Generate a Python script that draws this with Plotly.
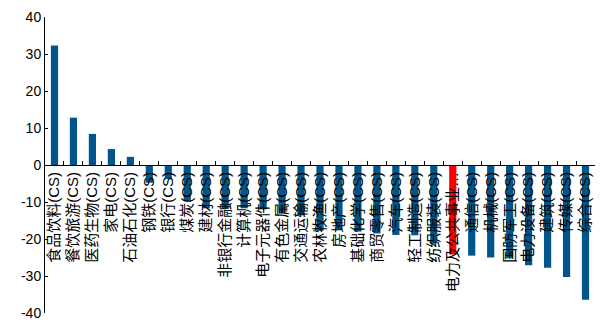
import plotly.graph_objects as go

categories = [
    "食品饮料(CS)", "餐饮旅游(CS)", "医药生物(CS)", "家电(CS)", "石油石化(CS)",
    "钢铁(CS)", "银行(CS)", "煤炭(CS)", "建材(CS)", "非银行金融(CS)",
    "计算机(CS)", "电子元器件(CS)", "有色金属(CS)", "交通运输(CS)", "农林牧渔(CS)",
    "房地产(CS)", "基础化学(CS)", "商贸零售(CS)", "汽车(CS)", "轻工制造(CS)",
    "纺织服装(CS)", "电力及公共事业…", "通信(CS)", "机械(CS)", "国防军工(CS)",
    "电力设备(CS)", "建筑(CS)", "传媒(CS)", "综合(CS)",
]
values = [
    32.3, 12.8, 8.4, 4.3, 2.2,
    -4.8, -3.8, -9.7, -11.7, -11.9,
    -11.7, -12.0, -13.1, -13.6, -17.8,
    -17.4, -18.0, -18.5, -18.9, -19.0,
    -21.2, -24.2, -24.5, -25.0, -25.2,
    -27.1, -27.8, -30.3, -36.4,
]
highlight = "电力及公共事业…"
y_tickvals = [40, 30, 20, 10, 0, -10, -20, -30, -40]
y_ticktext = ["40", "30", "20", "10", "0", "-10", "-20", "-30", "-40"]

BLUE = "#00568A"
RED = "#FF0000"
colors = [RED if c == highlight else BLUE for c in categories]

fig = go.Figure(go.Bar(x=categories, y=values, marker=dict(color=colors, line=dict(width=0))))

fig.update_layout(
    width=602, height=327,
    margin=dict(l=45, r=7, t=17, b=14),
    paper_bgcolor="white", plot_bgcolor="white",
    bargap=0.62,
    showlegend=False,
    font=dict(family="Liberation Sans, Arial, Noto Sans CJK SC", color="#000000"),
    xaxis=dict(
        type="category",
        anchor="free", position=0.5,
        tickmode="linear", dtick=1,
        showline=True, linecolor="#000000", linewidth=1,
        ticks="inside", ticklen=4, tickcolor="#000000", tickson="boundaries",
        tickangle=-90,
        tickfont=dict(size=15, family="Liberation Sans, Noto Sans CJK SC", color="#000000"),
        showgrid=False, zeroline=False,
        range=[-0.5, len(categories) - 0.5],
    ),
    yaxis=dict(
        range=[-40, 40],
        tickvals=y_tickvals, ticktext=y_ticktext,
        ticksuffix="\u00a0\u00a0",
        showline=True, linecolor="#000000", linewidth=1,
        ticks="inside", ticklen=3, tickcolor="#000000",
        tickfont=dict(size=14, family="Liberation Sans, Arial", color="#000000"),
        showgrid=False, zeroline=False,
    ),
)

fig.write_html("out.html")
